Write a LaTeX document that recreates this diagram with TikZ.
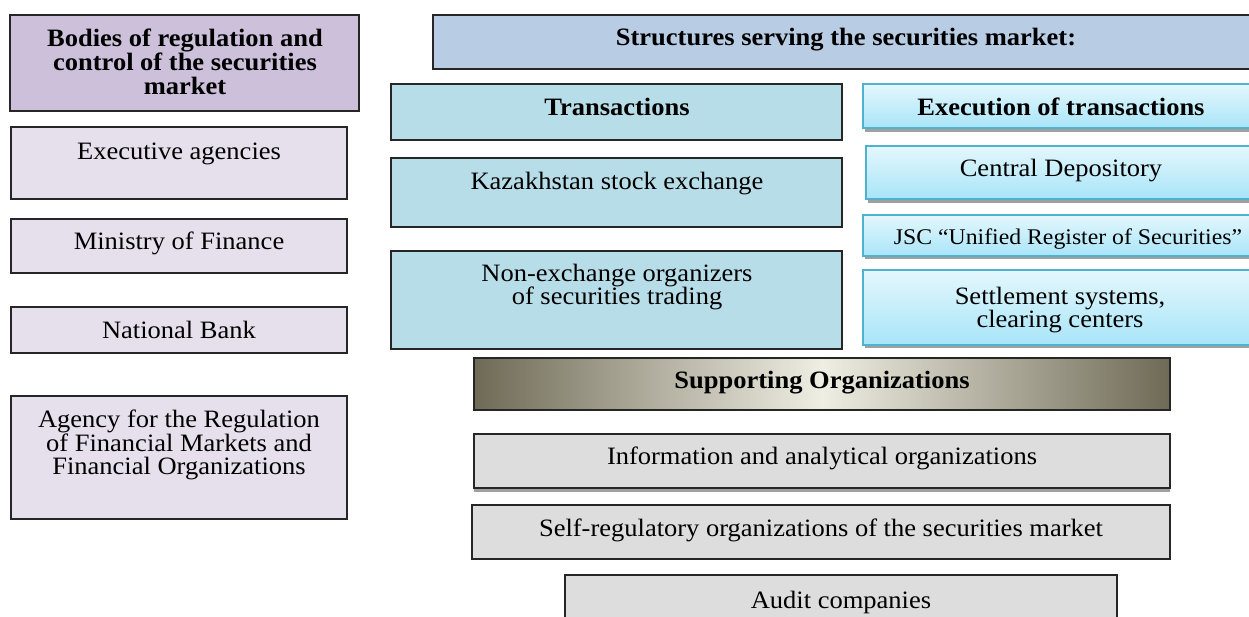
\documentclass[tikz,border=0pt]{standalone}
\usepackage{fontspec}
\setmainfont{Liberation Serif}[FakeStretch=1.06]
\usetikzlibrary{fit}
\definecolor{lavdark}{HTML}{CCC0DA}
\definecolor{lavlight}{HTML}{E5E0EC}
\definecolor{steel}{HTML}{B8CCE4}
\definecolor{aqua}{HTML}{B7DDE8}
\definecolor{cyantop}{HTML}{E4F7FD}
\definecolor{cyanbot}{HTML}{A8E5F8}
\definecolor{cyanline}{HTML}{4FB3CF}
\definecolor{olive}{HTML}{6F6A56}
\definecolor{cream}{HTML}{EFEEE3}
\definecolor{greybox}{HTML}{DDDDDD}
\definecolor{shadowgrey}{HTML}{A0A0A0}
\tikzset{
  box/.style={draw=black!85, line width=1.5pt, inner sep=0pt},
  lavhead/.style={box, fill=lavdark},
  lavbox/.style={box, fill=lavlight},
  steelbox/.style={box, fill=steel},
  aquabox/.style={box, fill=aqua},
  execbox/.style={draw=cyanline, line width=1.5pt, inner sep=0pt, top color=cyantop, bottom color=cyanbot},
  supbox/.style={box, left color=olive, right color=olive, middle color=cream},
  greyb/.style={box, fill=greybox},
  shadowstrip/.style={fill=shadowgrey, draw=none, inner sep=0pt},
  txt/.style={font=\fontsize{25}{23.5}\selectfont, align=center, inner sep=0pt},
  stxt/.style={font=\fontsize{22.4}{22}\selectfont, align=center, inner sep=0pt},
  btxt/.style={font=\fontsize{25}{24}\selectfont\bfseries, align=center, inner sep=0pt},
}
\begin{document}
\begin{tikzpicture}[x=1pt,y=-1pt]
\useasboundingbox (0,0) rectangle (1249,616);
% left column
\node[lavhead, fit={(10,15)(359,111)}] (bodies) {};
\node[btxt] (bodiesT) at (185,62) {Bodies of regulation and\\control of the securities\\market};
\node[lavbox, fit={(11,127)(347,199)}] (exec) {};
\node[txt] (execT) at (179,154) {Executive agencies};
\node[lavbox, fit={(11,219)(347,273)}] (mof) {};
\node[txt] (mofT) at (179,243) {Ministry of Finance};
\node[lavbox, fit={(11,307)(347,353)}] (nb) {};
\node[txt] (nbT) at (179,330) {National Bank};
\node[lavbox, fit={(11,396)(347,519)}] (agency) {};
\node[txt] (agencyT) at (179,445) {Agency for the Regulation\\of Financial Markets and\\Financial Organizations};
% structures
\node[steelbox, fit={(433,15)(1252,69)}] (struct) {};
\node[btxt] (structT) at (846,40) {Structures serving the securities market:};
\node[aquabox, fit={(391,84)(842,140)}] (trans) {};
\node[btxt] (transT) at (617,107) {Transactions};
\node[aquabox, fit={(391,158)(842,227)}] (kase) {};
\node[txt] (kaseT) at (617,184) {Kazakhstan stock exchange};
\node[aquabox, fit={(391,251)(842,349)}] (nonex) {};
\node[txt] (nonexT) at (617,287) {Non-exchange organizers\\of securities trading};
% execution column
\node[shadowstrip, fit={(865,128)(1252,132)}] (sh1) {};
\node[execbox, fit={(863,84)(1252,128)}] (execT0) {};
\node[btxt] (execTT) at (1061,107) {Execution of transactions};
\node[shadowstrip, fit={(868,199)(1252,203)}] (sh2) {};
\node[execbox, fit={(866,146)(1252,199)}] (cd) {};
\node[txt] (cdT) at (1061,171) {Central Depository};
\node[shadowstrip, fit={(865,256)(1252,259)}] (sh3) {};
\node[execbox, fit={(863,215)(1252,256)}] (jsc) {};
\node[stxt] (jscT) at (1068,239) {JSC “Unified Register of Securities”};
\node[shadowstrip, fit={(865,345)(1252,348)}] (sh4) {};
\node[execbox, fit={(863,270)(1252,345)}] (settle) {};
\node[txt] (settleT) at (1060,310) {Settlement systems,\\clearing centers};
% supporting
\node[supbox, fit={(474,358)(1170,410)}] (sup) {};
\node[btxt] (supT) at (822,383) {Supporting Organizations};
\node[shadowstrip, fit={(474,488)(1170,492)}] (sh5) {};
\node[greyb, fit={(474,434)(1170,488)}] (info) {};
\node[txt] (infoT) at (822,458) {Information and analytical organizations};
\node[greyb, fit={(472,505)(1170,559)}] (selfreg) {};
\node[txt] (selfregT) at (821,530) {Self-regulatory organizations of the securities market};
\node[greyb, fit={(565,575)(1117,625)}] (audit) {};
\node[txt] (auditT) at (841,602) {Audit companies};
\end{tikzpicture}
\end{document}
